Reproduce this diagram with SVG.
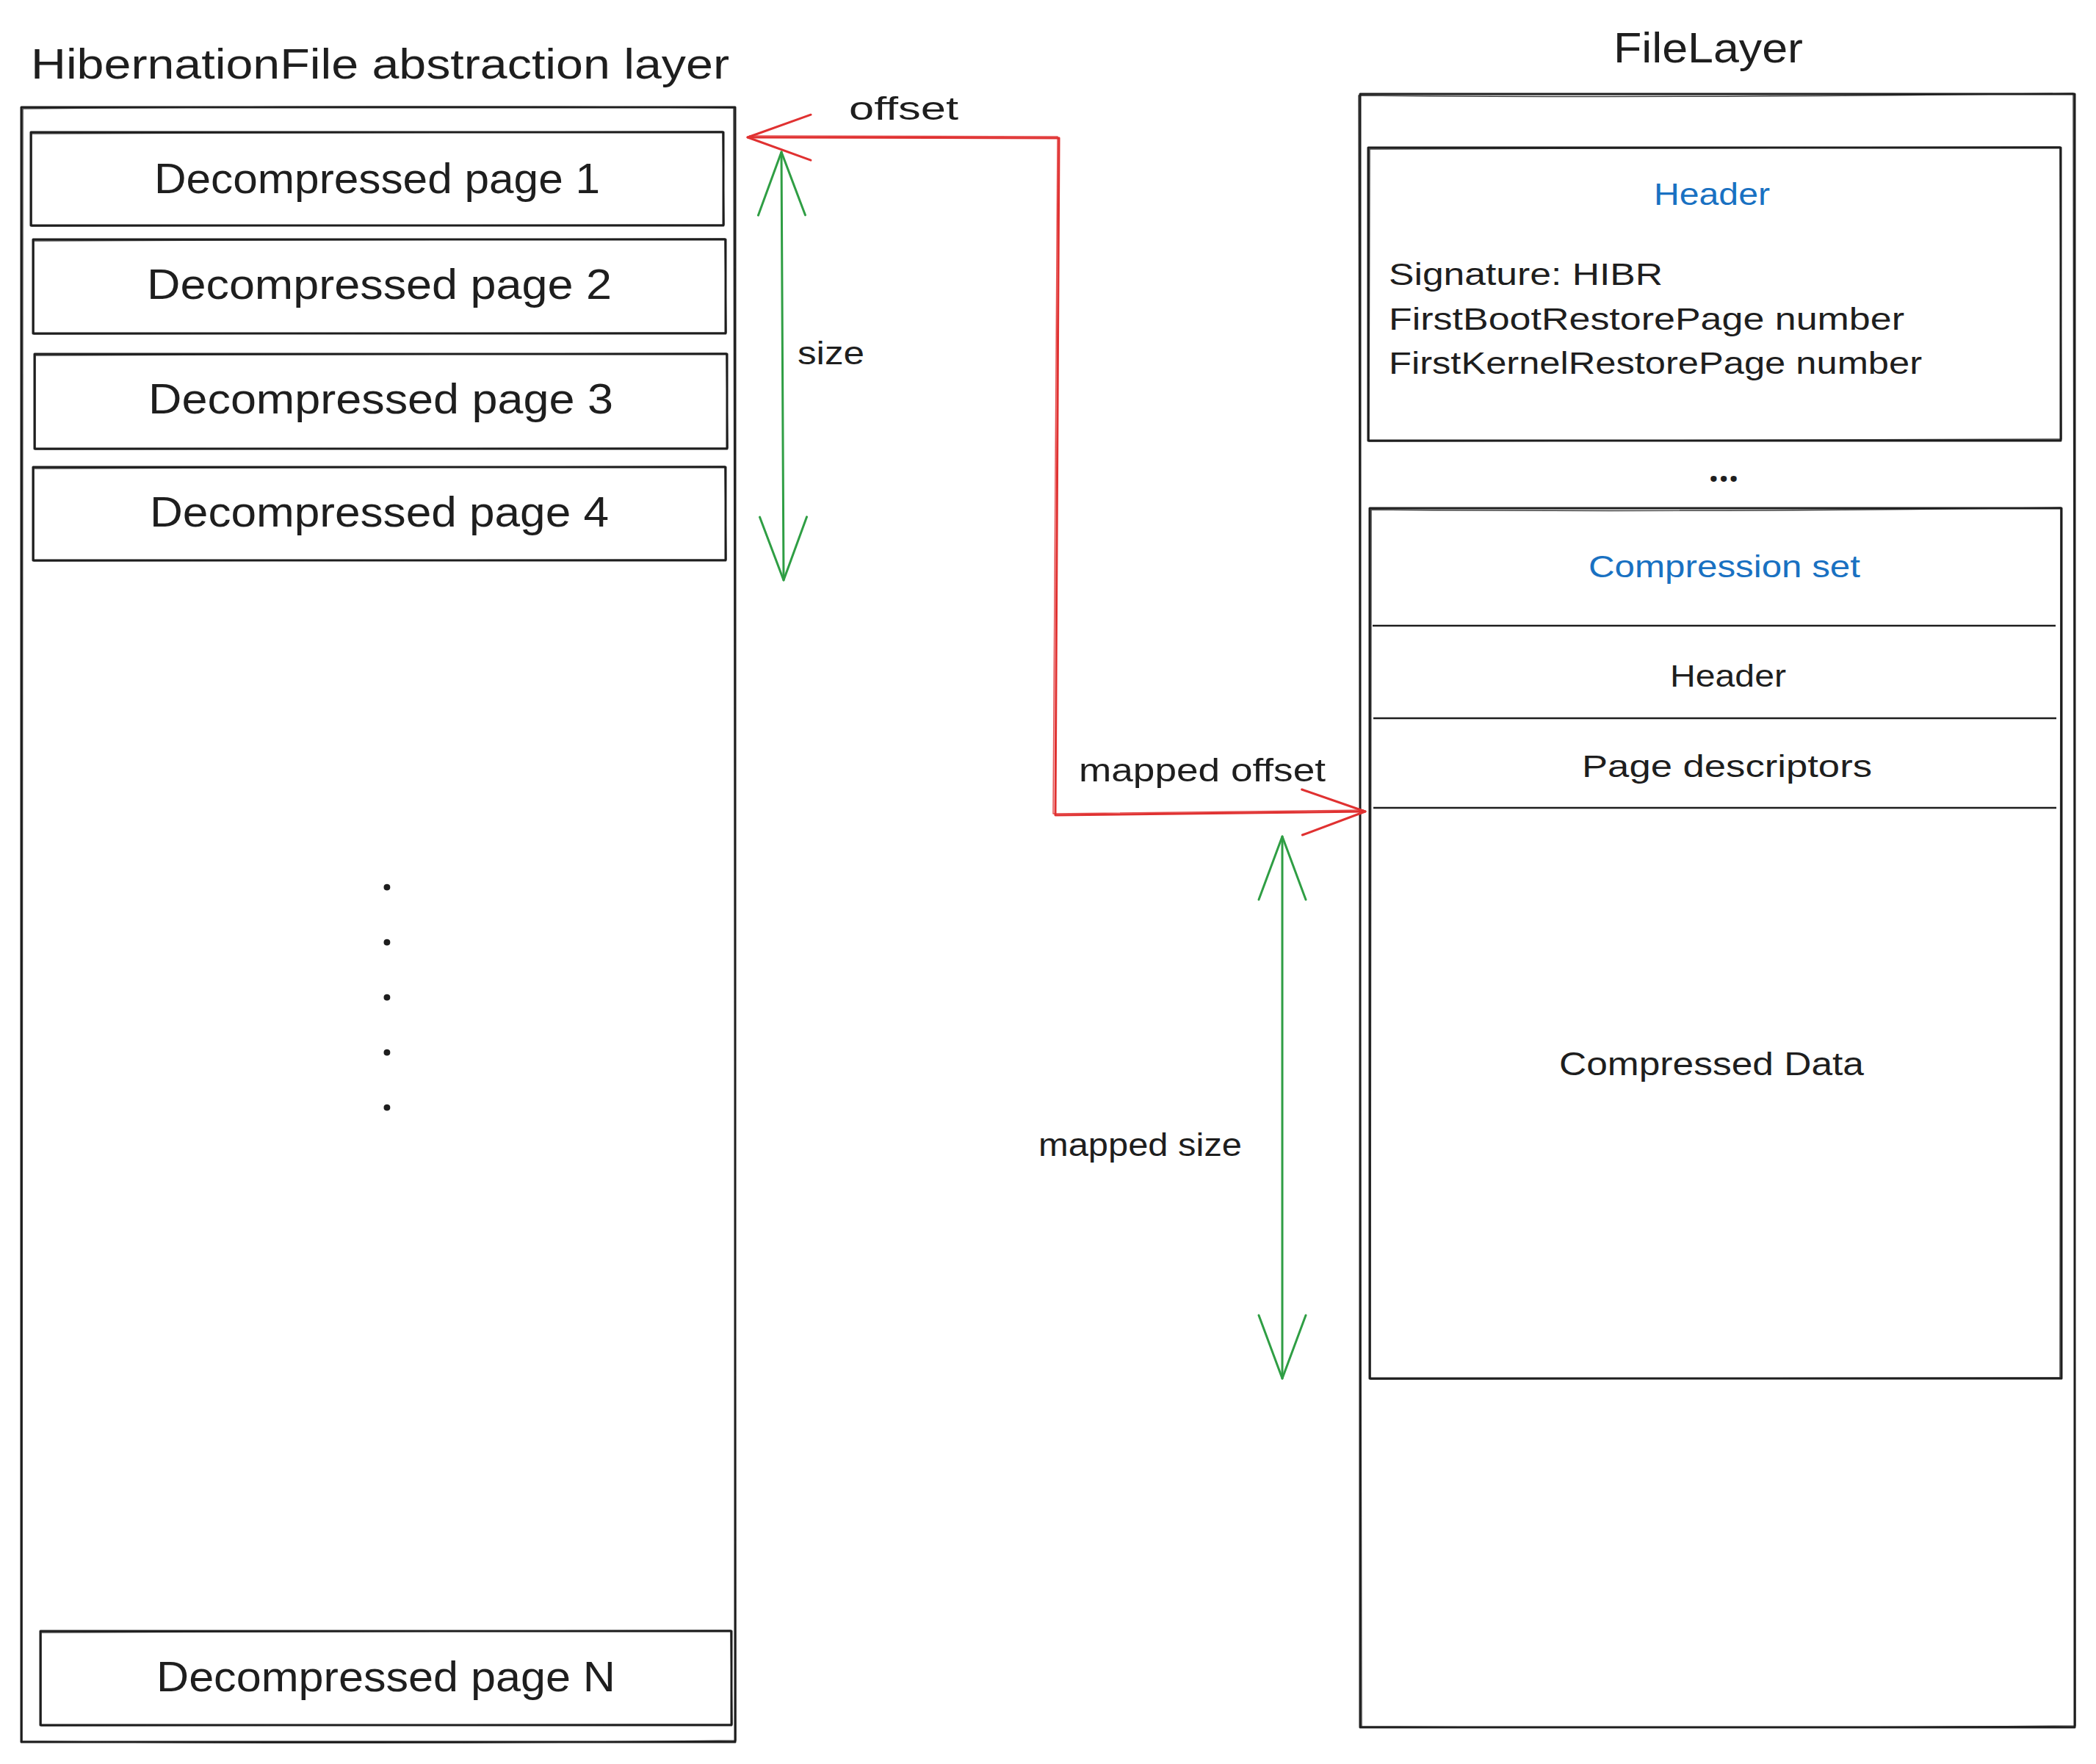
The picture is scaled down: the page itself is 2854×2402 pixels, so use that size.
<svg xmlns="http://www.w3.org/2000/svg" width="2854" height="2402" viewBox="0 0 2854 2402">
  <style>
    .box { fill: none; stroke: #1e1e1e; stroke-width: 3; stroke-linejoin: round; }
    .sk { fill: none; stroke: #1e1e1e; stroke-width: 1.5; stroke-linejoin: round; opacity: 0.85; }
    .div { fill: none; stroke: #1e1e1e; stroke-width: 2.6; }
    .t { font-family: "Liberation Sans", Arial, sans-serif; fill: #1e1e1e; }
    .big { font-size: 58px; }
    .mid { font-size: 42px; }
    .lbl { font-size: 44px; }
    .blue { fill: #1971c2; }
    .dots { font-family: "Open Sans", "Noto Sans", sans-serif; font-weight: bold; fill: #1e1e1e; }
    .red { fill: none; stroke: #e03131; stroke-width: 3; stroke-linejoin: round; stroke-linecap: round; }
    .green { fill: none; stroke: #2f9e44; stroke-width: 3; stroke-linecap: round; }
  </style>
  <defs>
    <marker id="arRed" markerUnits="userSpaceOnUse" viewBox="-100 -40 110 80" markerWidth="110" markerHeight="80" refX="0" refY="0" orient="auto-start-reverse" overflow="visible">
      <path d="M-86,-31 L0,0 L-86,31" fill="none" stroke="#e03131" stroke-width="3" stroke-linecap="round" stroke-linejoin="round"/>
    </marker>
    <marker id="arGreen" markerUnits="userSpaceOnUse" viewBox="-100 -40 110 80" markerWidth="110" markerHeight="80" refX="0" refY="0" orient="auto-start-reverse" overflow="visible">
      <path d="M-86,-32 L0,0 L-86,32" fill="none" stroke="#2f9e44" stroke-width="3" stroke-linecap="round" stroke-linejoin="round"/>
    </marker>
  </defs>
  <rect width="2854" height="2402" fill="#ffffff"/>

  <!-- Titles -->
  <g id="title-hibernation">
    <text class="t big" x="42" y="107" textLength="951" lengthAdjust="spacingAndGlyphs">HibernationFile abstraction layer</text>
  </g>
  <g id="title-filelayer">
    <text class="t big" x="2197" y="85" textLength="258" lengthAdjust="spacingAndGlyphs">FileLayer</text>
  </g>

  <!-- Left container -->
  <g id="hibernation-layer">
    <rect class="box" x="29" y="146" width="972" height="2226"/>
    <path class="sk" d="M31,148 Q500,143 999,147 L1002,2370 Q520,2376 30,2371 Z"/>
  </g>

  <g id="page-1">
    <rect class="box" x="42" y="180" width="943" height="127"/>
    <path class="sk" d="M43,182 L984,179 L986,306 L43,308 Z"/>
    <text class="t big" x="513.5" y="263" text-anchor="middle" textLength="607" lengthAdjust="spacingAndGlyphs">Decompressed page 1</text>
  </g>
  <g id="page-2">
    <rect class="box" x="45" y="326" width="943" height="128"/>
    <path class="sk" d="M46,328 L987,325 L989,453 L46,455 Z"/>
    <text class="t big" x="516.5" y="407" text-anchor="middle" textLength="633" lengthAdjust="spacingAndGlyphs">Decompressed page 2</text>
  </g>
  <g id="page-3">
    <rect class="box" x="47" y="482" width="943" height="129"/>
    <path class="sk" d="M48,484 L989,481 L991,610 L48,612 Z"/>
    <text class="t big" x="518.5" y="563" text-anchor="middle" textLength="633" lengthAdjust="spacingAndGlyphs">Decompressed page 3</text>
  </g>
  <g id="page-4">
    <rect class="box" x="45" y="636" width="943" height="127"/>
    <path class="sk" d="M46,638 L987,635 L989,762 L46,764 Z"/>
    <text class="t big" x="516.5" y="717" text-anchor="middle" textLength="625" lengthAdjust="spacingAndGlyphs">Decompressed page 4</text>
  </g>
  <g id="page-dots">
    <text class="dots" font-size="52" x="527" y="1212" text-anchor="middle">.<tspan x="527" dy="75">.</tspan><tspan x="527" dy="75">.</tspan><tspan x="527" dy="75">.</tspan><tspan x="527" dy="75">.</tspan></text>
  </g>
  <g id="page-n">
    <rect class="box" x="55" y="2221" width="941" height="128"/>
    <path class="sk" d="M56,2223 L995,2220 L997,2348 L56,2350 Z"/>
    <text class="t big" x="525.5" y="2303" text-anchor="middle" textLength="625" lengthAdjust="spacingAndGlyphs">Decompressed page N</text>
  </g>

  <!-- Right container -->
  <g id="file-layer">
    <rect class="box" x="1852" y="128" width="973" height="2224"/>
    <path class="sk" d="M1850,130 Q2300,134 2823,127 L2826,2350 Q2300,2354 1854,2351 Z"/>
  </g>

  <g id="file-header">
    <rect class="box" x="1863" y="201" width="943" height="399"/>
    <path class="sk" d="M1865,203 L2805,200 L2807,598 L1864,601 Z"/>
    <text class="t mid blue" x="2331" y="279" text-anchor="middle" textLength="158" lengthAdjust="spacingAndGlyphs">Header</text>
    <text class="t mid" x="1891" y="388" textLength="373" lengthAdjust="spacingAndGlyphs">Signature: HIBR</text>
    <text class="t mid" x="1891" y="449" textLength="702" lengthAdjust="spacingAndGlyphs">FirstBootRestorePage number</text>
    <text class="t mid" x="1891" y="509" textLength="726" lengthAdjust="spacingAndGlyphs">FirstKernelRestorePage number</text>
  </g>

  <g id="file-ellipsis">
    <text class="dots" font-size="48" x="2347" y="656" text-anchor="middle">...</text>
  </g>

  <g id="compression-set">
    <rect class="box" x="1865" y="692" width="942" height="1185"/>
    <path class="sk" d="M1867,694 Q2300,698 2806,691 L2805,1876 L1866,1878 Z"/>
    <text class="t mid blue" x="2348" y="786" text-anchor="middle" textLength="370" lengthAdjust="spacingAndGlyphs">Compression set</text>
    <line class="div" x1="1869" y1="852" x2="2799" y2="852"/>
    <text class="t mid" x="2353" y="935" text-anchor="middle" textLength="158" lengthAdjust="spacingAndGlyphs">Header</text>
    <line class="div" x1="1870" y1="978" x2="2800" y2="978"/>
    <text class="t mid" x="2351.5" y="1058" text-anchor="middle" textLength="395" lengthAdjust="spacingAndGlyphs">Page descriptors</text>
    <line class="div" x1="1870" y1="1100" x2="2800" y2="1100"/>
    <text class="t lbl" x="2330.5" y="1464" text-anchor="middle" textLength="415" lengthAdjust="spacingAndGlyphs">Compressed Data</text>
  </g>

  <!-- Connectors -->
  <g id="connectors">
    <path class="red" d="M1018,187 L1442,188 L1437,1110 L1859,1105" marker-start="url(#arRed)" marker-end="url(#arRed)"/>
    <path class="sk" style="stroke:#e03131" d="M1020,185 L1440,186 L1434,1108 L1857,1103"/>
    <path class="green" d="M1064,207 L1067,790" marker-start="url(#arGreen)" marker-end="url(#arGreen)"/>
    <path class="green" d="M1746,1139 L1746,1877" marker-start="url(#arGreen)" marker-end="url(#arGreen)"/>
  </g>

  <!-- Connector labels -->
  <g id="connector-labels">
    <text class="t lbl" x="1156" y="163" textLength="149" lengthAdjust="spacingAndGlyphs">offset</text>
    <text class="t lbl" x="1086" y="496" textLength="91" lengthAdjust="spacingAndGlyphs">size</text>
    <text class="t lbl" x="1469" y="1064" textLength="336" lengthAdjust="spacingAndGlyphs">mapped offset</text>
    <text class="t lbl" x="1414" y="1574" textLength="277" lengthAdjust="spacingAndGlyphs">mapped size</text>
  </g>
</svg>
